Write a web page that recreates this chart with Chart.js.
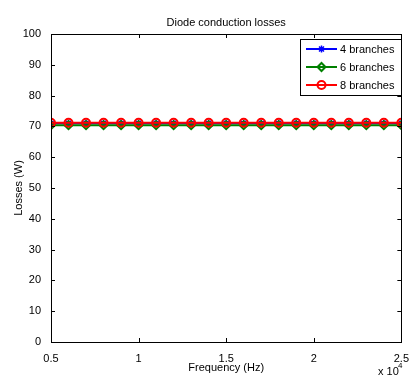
<!DOCTYPE html>
<html>
<head>
<meta charset="utf-8">
<script src="https://cdn.jsdelivr.net/npm/chart.js@4.4.1/dist/chart.umd.min.js"></script>
<style>
    html, body { margin: 0; padding: 0; background: #ffffff; }
    #wrap { width: 411px; height: 377px; }
</style>
</head>
<body>
<div id="wrap"><canvas id="lossChart" width="411" height="377"></canvas></div>
<script>
// Dados
const frequencies = [5000, 6000, 7000, 8000, 9000, 10000, 11000, 12000, 13000, 14000, 15000,
    16000, 17000, 18000, 19000, 20000, 21000, 22000, 23000, 24000, 25000];
const losses4 = [71.0, 71.0, 71.0, 71.0, 71.0, 71.0, 71.0, 71.0, 71.0, 71.0, 71.0,
    71.0, 71.0, 71.0, 71.0, 71.0, 71.0, 71.0, 71.0, 71.0, 71.0];
const losses6 = [70.4, 70.4, 70.4, 70.4, 70.4, 70.4, 70.4, 70.4, 70.4, 70.4, 70.4,
    70.4, 70.4, 70.4, 70.4, 70.4, 70.4, 70.4, 70.4, 70.4, 70.4];
const losses8 = [71.2, 71.2, 71.2, 71.2, 71.2, 71.2, 71.2, 71.2, 71.2, 71.2, 71.2,
    71.2, 71.2, 71.2, 71.2, 71.2, 71.2, 71.2, 71.2, 71.2, 71.2];
const seriesNames = ['4 branches', '6 branches', '8 branches'];
const xTicks = [5000, 10000, 15000, 20000, 25000];
const yTicks = [0, 10, 20, 30, 40, 50, 60, 70, 80, 90, 100];

const FONT = 'Liberation Sans, Arial, sans-serif';
const CLEAR = 'rgba(0,0,0,0)';

function toPoints(ys) {
    return frequencies.map((f, i) => ({ x: f, y: ys[i] }));
}

// Plugin estilo MATLAB: caixa, ticks internos, títulos e legenda
const matlabStyle = {
    id: 'matlabStyle',
    afterDraw(chart) {
        const ctx = chart.ctx;
        const a = chart.chartArea;
        const xs = chart.scales.x;
        const ys = chart.scales.y;
        ctx.save();
        ctx.strokeStyle = '#000';
        ctx.lineWidth = 1;
        ctx.strokeRect(Math.round(a.left) + 0.5, Math.round(a.top) + 0.5,
            Math.round(a.right - a.left), Math.round(a.bottom - a.top));
        ctx.beginPath();
        xTicks.forEach(t => {
            const px = Math.round(xs.getPixelForValue(t)) + 0.5;
            ctx.moveTo(px, a.bottom); ctx.lineTo(px, a.bottom - 4);
            ctx.moveTo(px, a.top); ctx.lineTo(px, a.top + 4);
        });
        yTicks.forEach(t => {
            const py = Math.round(ys.getPixelForValue(t)) + 0.5;
            ctx.moveTo(a.left, py); ctx.lineTo(a.left + 4, py);
            ctx.moveTo(a.right, py); ctx.lineTo(a.right - 4, py);
        });
        ctx.stroke();

        // títulos
        ctx.fillStyle = '#000';
        ctx.font = '11px ' + FONT;
        ctx.textAlign = 'center';
        ctx.textBaseline = 'middle';
        ctx.fillText('Diode conduction losses', (a.left + a.right) / 2, 23);
        ctx.fillText('Frequency (Hz)', (a.left + a.right) / 2, 368);
        ctx.save();
        ctx.translate(19, (a.top + a.bottom) / 2);
        ctx.rotate(-Math.PI / 2);
        ctx.fillText('Losses (W)', 0, 0);
        ctx.restore();
        ctx.textAlign = 'left';
        ctx.fillText('x 10', 378, 372);
        ctx.font = '8px ' + FONT;
        ctx.fillText('4', 398, 366);

        // legenda
        const lx = 300, ly = 39, lw = 101, lh = 56;
        ctx.fillStyle = '#fff';
        ctx.fillRect(lx, ly, lw, lh);
        ctx.strokeRect(lx + 0.5, ly + 0.5, lw, lh);
        chart.data.datasets.forEach((ds, i) => {
            const y = ly + 10 + i * 18;
            ctx.strokeStyle = ds.borderColor;
            ctx.lineWidth = 2;
            ctx.beginPath();
            ctx.moveTo(lx + 6, y); ctx.lineTo(lx + 37, y);
            ctx.stroke();
            ctx.fillStyle = ds.backgroundColor;
            ctx.lineWidth = ds.pointBorderWidth;
            Chart.helpers.drawPoint(ctx, {
                pointStyle: ds.pointStyle,
                radius: ds.pointRadius,
                borderWidth: ds.pointBorderWidth,
                rotation: 0
            }, lx + 21.5, y);
            ctx.fillStyle = '#000';
            ctx.font = '11px ' + FONT;
            ctx.textAlign = 'left';
            ctx.fillText(ds.label, lx + 40, y + 1);
        });
        ctx.restore();
    }
};

document.addEventListener('DOMContentLoaded', function() {
    const ctx = document.getElementById('lossChart').getContext('2d');
    new Chart(ctx, {
        type: 'line',
        data: {
            datasets: [
                {
                    label: seriesNames[0],
                    data: toPoints(losses4),
                    borderColor: '#0000ff',
                    backgroundColor: '#0000ff',
                    pointStyle: 'star',
                    pointRadius: 3.5,
                    pointBorderWidth: 1.5,
                    borderWidth: 2,
                    order: 3
                },
                {
                    label: seriesNames[1],
                    data: toPoints(losses6),
                    borderColor: '#008000',
                    backgroundColor: CLEAR,
                    pointStyle: 'rectRot',
                    pointRadius: 4,
                    pointBorderWidth: 2,
                    borderWidth: 2,
                    order: 2
                },
                {
                    label: seriesNames[2],
                    data: toPoints(losses8),
                    borderColor: '#ff0000',
                    backgroundColor: CLEAR,
                    pointStyle: 'circle',
                    pointRadius: 4,
                    pointBorderWidth: 2,
                    borderWidth: 2,
                    order: 1
                }
            ]
        },
        options: {
            responsive: false,
            animation: false,
            layout: { padding: { top: 34, right: 8, left: 0, bottom: 0 } },
            plugins: {
                legend: { display: false },
                title: { display: false },
                tooltip: { enabled: false }
            },
            scales: {
                x: {
                    type: 'linear',
                    min: 5000,
                    max: 25000,
                    afterFit: s => { s.height = 35; },
                    afterBuildTicks: s => { s.ticks = xTicks.map(v => ({ value: v })); },
                    grid: { display: false },
                    border: { display: false },
                    ticks: {
                        color: '#000',
                        padding: 2,
                        maxRotation: 0,
                        font: { family: FONT, size: 11 },
                        callback: v => String(v / 10000)
                    }
                },
                y: {
                    min: 0,
                    max: 100,
                    afterFit: s => { s.width = 51; },
                    afterBuildTicks: s => { s.ticks = yTicks.map(v => ({ value: v })); },
                    grid: { display: false },
                    border: { display: false },
                    ticks: {
                        color: '#000',
                        padding: 2,
                        font: { family: FONT, size: 11 }
                    }
                }
            }
        },
        plugins: [matlabStyle]
    });
});
</script>
</body>
</html>
